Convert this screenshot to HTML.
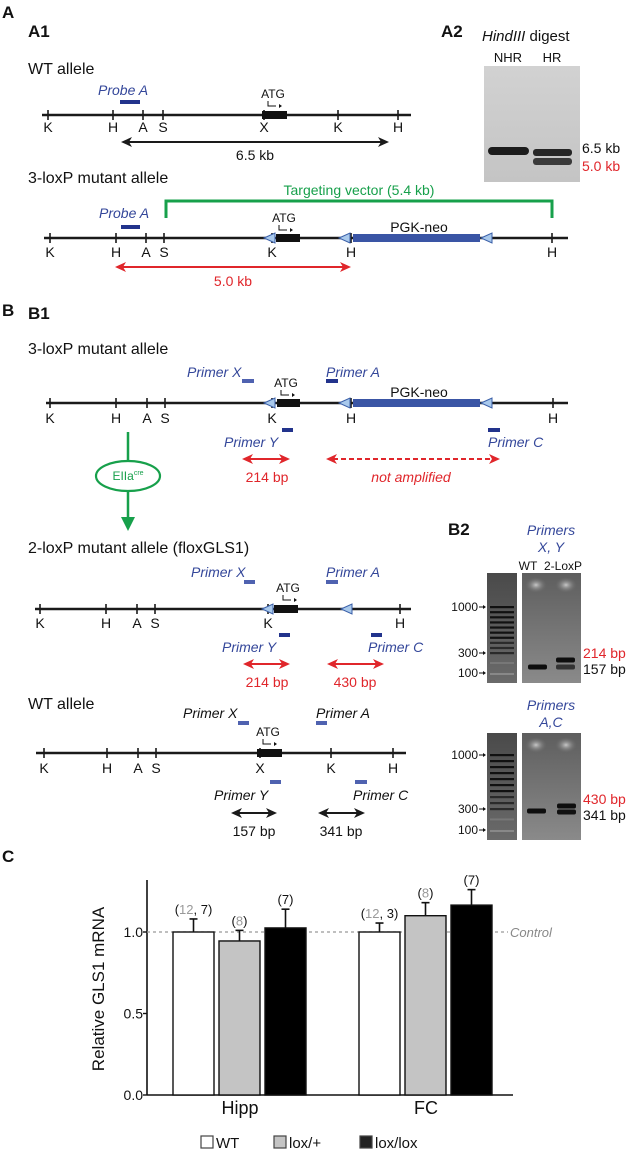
<!DOCTYPE html>
<html><head><meta charset="utf-8"><style>
html,body{margin:0;padding:0;background:#fff}
svg{display:block;font-family:"Liberation Sans",Arial,sans-serif}
</style></head><body>
<svg id="fig" width="632" height="1154" viewBox="0 0 632 1154" xmlns="http://www.w3.org/2000/svg">
<defs>
<linearGradient id="lad" x1="0" y1="0" x2="0" y2="1"><stop offset="0" stop-color="#4a4a4a"/><stop offset="1" stop-color="#6a6a6a"/></linearGradient>
<linearGradient id="smp" x1="0" y1="0" x2="0" y2="1"><stop offset="0" stop-color="#5e5e5e"/><stop offset="1" stop-color="#8a8a8a"/></linearGradient>
<radialGradient id="glow"><stop offset="0" stop-color="#c8c8c8"/><stop offset="1" stop-color="#6a6a6a" stop-opacity="0"/></radialGradient>
<linearGradient id="south" x1="0" y1="0" x2="0" y2="1"><stop offset="0" stop-color="#d2d2d2"/><stop offset="1" stop-color="#c4c4c4"/></linearGradient>
</defs>
<g id="diag"></g>
<g id="chart"></g>
</svg>
<script>
const NS="http://www.w3.org/2000/svg";
const D=document.getElementById('diag');
function mk(tag,attrs,parent,txt){const e=document.createElementNS(NS,tag);for(const k in attrs)e.setAttribute(k,attrs[k]);if(txt!==undefined)e.textContent=txt;(parent||D).appendChild(e);return e;}
function T(x,y,s,o,name){o=o||{};const e=mk('text',Object.assign({x:x,y:y,'font-size':o.fs||13,fill:o.fill||'#111','text-anchor':o.anchor||'start','font-style':o.it?'italic':'normal','font-weight':o.b?'bold':'normal'},o.extra||{}),o.parent,s);


return e;}
const BLUE='#34479a',DBLUE='#22338c',RED='#e0262b',GREEN='#17a04b';
function dArrow(x1,x2,y,col,dash){const g=mk('g',{});


mk('line',{x1:x1+7,x2:x2-7,y1:y,y2:y,stroke:col,'stroke-width':2,'stroke-dasharray':dash?'5,3':'none'},g);
mk('polygon',{points:`${x1},${y} ${x1+11},${y-5} ${x1+8},${y} ${x1+11},${y+5}`,fill:col},g);
mk('polygon',{points:`${x2},${y} ${x2-11},${y-5} ${x2-8},${y} ${x2-11},${y+5}`,fill:col},g);}
function allele(y,x1,x2,ticks,ly,name){const g=mk('g',{});


mk('line',{x1:x1,x2:x2,y1:y,y2:y,stroke:'#1a1a1a','stroke-width':2.4},g);
ticks.forEach(t=>{mk('line',{x1:t[0],x2:t[0],y1:y-5,y2:y+5,stroke:'#1a1a1a','stroke-width':1.6},g);
if(t[1])T(t[0],ly,t[1],{fs:14,anchor:'middle',parent:g},'site-label');});return g;}
function lox(x,y){const e=mk('polygon',{points:`${x},${y} ${x+11},${y-5} ${x+11},${y+5}`,fill:'#a9c9ec',stroke:'#3a5fa8','stroke-width':1});

}
function exon(x1,x2,y){const e=mk('rect',{x:x1,y:y-4,width:x2-x1,height:8,fill:'#111'});

}
function atg(x,y){T(x,y,'ATG',{fs:12,anchor:'middle'},'atg-label');mk('path',{d:`M${x-5},${y+3} v5 h8`,stroke:'#111',fill:'none','stroke-width':1});mk('polygon',{points:`${x+6},${y+6} ${x+9},${y+8} ${x+6},${y+10}`,fill:'#111'});}
function bar(x1,x2,y,col){const e=mk('rect',{x:x1,y:y-2,width:x2-x1,height:4,fill:col||DBLUE});

}

T(2,18,'A',{fs:17,b:true},'panel-a');
T(28,37,'A1',{fs:17,b:true},'panel-a1');
T(441,37,'A2',{fs:17,b:true},'panel-a2');
T(482,41,'',{fs:15},'gel-title');
(function(){const t=D.lastChild;mk('tspan',{'font-style':'italic'},t,'HindIII');mk('tspan',{},t,' digest');})();
T(508,62,'NHR',{fs:13,anchor:'middle'},'lane-nhr');
T(552,62,'HR',{fs:13,anchor:'middle'},'lane-hr');
(function(){const r=mk('rect',{x:484,y:66,width:96,height:116,fill:'url(#south)'});


mk('rect',{x:488,y:147,width:41,height:8,rx:4,fill:'#1c1c1c'});
mk('rect',{x:533,y:149,width:39,height:7,rx:3,fill:'#262626'});
mk('rect',{x:533,y:158,width:39,height:7,rx:3,fill:'#3a3a3a'});})();
T(582,153,'6.5 kb',{fs:14},'band-6-5kb');
T(582,171,'5.0 kb',{fs:14,fill:RED},'band-5-0kb');

T(28,74,'WT allele',{fs:16},'wt-allele-title');
T(98,95,'Probe A',{fs:14,it:true,fill:BLUE},'probe-a-label');
bar(120,140,102);
allele(115,42,411,[[48,'K'],[113,'H'],[143,'A'],[163,'S'],[264,'X'],[338,'K'],[398,'H']],132,'wt-allele-a1');
exon(262,287,115);atg(273,98);
dArrow(121,389,142,'#1a1a1a');
T(255,160,'6.5 kb',{fs:14,anchor:'middle'},'label-6-5kb');

T(28,183,'3-loxP mutant allele',{fs:16},'loxp3-allele-title');
T(359,195,'Targeting vector (5.4 kb)',{fs:14,anchor:'middle',fill:GREEN},'targeting-vector-label');
mk('path',{d:'M166,218 V201 H552 V218',stroke:GREEN,'stroke-width':3,fill:'none'});
T(99,218,'Probe A',{fs:14,it:true,fill:BLUE},'probe-a-label');
bar(121,140,227);
allele(238,44,568,[[50,'K'],[116,'H'],[146,'A'],[164,'S'],[272,'K'],[351,'H'],[552,'H']],257,'loxp3-allele-a1');
lox(264,238);exon(276,300,238);lox(339,238);
mk('rect',{x:353,y:234,width:127,height:8,fill:'#3a55a5'});lox(481,238);
atg(284,222);
T(419,232,'PGK-neo',{fs:14,anchor:'middle'},'pgk-neo-label');
dArrow(115,351,267,RED);
T(233,286,'5.0 kb',{fs:14,anchor:'middle',fill:RED},'label-5-0kb');

T(2,316,'B',{fs:17,b:true},'panel-b');
T(28,319,'B1',{fs:17,b:true},'panel-b1');
T(28,354,'3-loxP mutant allele',{fs:16},'loxp3-allele-title-b');
T(187,377,'Primer X',{fs:14,it:true,fill:BLUE},'primer-x-label');bar(242,254,381,'#4f62b0');
T(326,377,'Primer A',{fs:14,it:true,fill:BLUE},'primer-a-label');bar(326,338,381);
allele(403,46,568,[[50,'K'],[116,'H'],[147,'A'],[165,'S'],[272,'K'],[351,'H'],[553,'H']],423,'loxp3-allele-b1');
lox(264,403);exon(277,300,403);lox(339,403);
mk('rect',{x:353,y:399,width:127,height:8,fill:'#3a55a5'});lox(481,403);
atg(286,387);
T(419,397,'PGK-neo',{fs:14,anchor:'middle'},'pgk-neo-label-b');
bar(282,293,430);T(224,447,'Primer Y',{fs:14,it:true,fill:BLUE},'primer-y-label');
bar(488,500,430);T(488,447,'Primer C',{fs:14,it:true,fill:BLUE},'primer-c-label');
dArrow(242,290,459,RED);dArrow(326,500,459,RED,true);
T(267,482,'214 bp',{fs:14,anchor:'middle',fill:RED},'label-214bp');
T(411,482,'not amplified',{fs:14,anchor:'middle',fill:RED,it:true},'label-not-amplified');
mk('line',{x1:128,x2:128,y1:432,y2:522,stroke:GREEN,'stroke-width':2.5});
mk('polygon',{points:'121,517 135,517 128,531',fill:GREEN});
mk('ellipse',{cx:128,cy:476,rx:32,ry:15,fill:'#fff',stroke:GREEN,'stroke-width':2.2});
(function(){const t=T(128,480,'EIIa',{fs:12,anchor:'middle',fill:GREEN},'eiia-cre-label');mk('tspan',{'font-size':7,dy:-5},t,'cre');})();

T(28,553,'2-loxP mutant allele (floxGLS1)',{fs:16},'loxp2-allele-title');
T(191,577,'Primer X',{fs:14,it:true,fill:BLUE},'primer-x-label-2');bar(244,255,582,'#4f62b0');
T(326,577,'Primer A',{fs:14,it:true,fill:BLUE},'primer-a-label-2');bar(326,338,582,'#4f62b0');
allele(609,35,411,[[40,'K'],[106,'H'],[137,'A'],[155,'S'],[268,'K'],[400,'H']],628,'loxp2-allele');
lox(262,609);exon(274,298,609);lox(341,609);
atg(288,592);
bar(279,290,635);T(222,652,'Primer Y',{fs:14,it:true,fill:BLUE},'primer-y-label-2');
bar(371,382,635);T(368,652,'Primer C',{fs:14,it:true,fill:BLUE},'primer-c-label-2');
dArrow(243,290,664,RED);dArrow(327,384,664,RED);
T(267,687,'214 bp',{fs:14,anchor:'middle',fill:RED},'label-214bp-2');
T(355,687,'430 bp',{fs:14,anchor:'middle',fill:RED},'label-430bp');

T(28,709,'WT allele',{fs:16},'wt-allele-title-b');
T(183,718,'Primer X',{fs:14,it:true},'primer-x-label-3');bar(238,249,723,'#4f62b0');
T(316,718,'Primer A',{fs:14,it:true},'primer-a-label-3');bar(316,327,723,'#4f62b0');
allele(753,36,406,[[44,'K'],[107,'H'],[138,'A'],[156,'S'],[260,'X'],[331,'K'],[393,'H']],773,'wt-allele-b');
exon(257,282,753);atg(268,736);
bar(270,281,782,'#4f62b0');T(214,800,'Primer Y',{fs:14,it:true},'primer-y-label-3');
bar(355,367,782,'#4f62b0');T(353,800,'Primer C',{fs:14,it:true},'primer-c-label-3');
dArrow(231,277,813,'#1a1a1a');dArrow(318,365,813,'#1a1a1a');
T(254,836,'157 bp',{fs:14,anchor:'middle'},'label-157bp');
T(341,836,'341 bp',{fs:14,anchor:'middle'},'label-341bp');

T(448,535,'B2',{fs:17,b:true},'panel-b2');
T(551,535,'Primers',{fs:14,it:true,fill:BLUE,anchor:'middle'},'primers-xy-title');
T(551,552,'X, Y',{fs:14,it:true,fill:BLUE,anchor:'middle'},'primers-xy-sub');
T(528,570,'WT',{fs:12,anchor:'middle'},'lane-wt');
T(563,570,'2-LoxP',{fs:12,anchor:'middle'},'lane-2loxp');
T(551,710,'Primers',{fs:14,it:true,fill:BLUE,anchor:'middle'},'primers-ac-title');
T(551,727,'A,C',{fs:14,it:true,fill:BLUE,anchor:'middle'},'primers-ac-sub');
function gel(top,bot,m1000,m300,m100,bands,name){
const g=mk('g',{});


mk('rect',{x:487,y:top,width:30,height:bot-top,fill:'url(#lad)'},g);
mk('rect',{x:522,y:top,width:59,height:bot-top,fill:'url(#smp)'},g);
mk('ellipse',{cx:536,cy:top+12,rx:11,ry:8,fill:'url(#glow)'},g);
mk('ellipse',{cx:566,cy:top+12,rx:11,ry:8,fill:'url(#glow)'},g);
const step=(m300-m1000)/9;
for(let i=0;i<10;i++){mk('rect',{x:490,y:m1000+i*step-1,width:24,height:2.2,fill:i<7?'#111':'#2a2a2a'},g);}
mk('rect',{x:490,y:m300+(m100-m300)*0.45,width:24,height:2,fill:'#777'},g);
mk('rect',{x:490,y:m100,width:24,height:2,fill:'#888'},g);
[[m1000,'1000'],[m300,'300'],[m100,'100']].forEach(m=>{T(478,m[0]+4,m[1],{fs:12,anchor:'end'},'marker-label');
mk('line',{x1:479,x2:483,y1:m[0],y2:m[0],stroke:'#111','stroke-width':1},g);mk('polygon',{points:`${483},${m[0]-2} ${486},${m[0]} ${483},${m[0]+2}`,fill:'#111'},g);});
bands.forEach(b=>mk('rect',{x:b[0],y:b[1]-2.5,width:19,height:5,rx:2,fill:b[2]},g));}
gel(573,683,607,653,673,[[528,667,'#0e0e0e'],[556,660,'#0e0e0e'],[556,667,'#333']],'pcr-gel-xy');
gel(733,840,755,809,830,[[527,811,'#0e0e0e'],[557,806,'#0e0e0e'],[557,812,'#111']],'pcr-gel-ac');
T(583,658,'214 bp',{fs:14,fill:RED},'band-214bp');
T(583,674,'157 bp',{fs:14},'band-157bp');
T(583,804,'430 bp',{fs:14,fill:RED},'band-430bp');
T(583,820,'341 bp',{fs:14},'band-341bp');
</script>
<script>
// ---- Chart C data ----
const regions=["Hipp","FC"];
const genotypes=["WT","lox/+","lox/lox"];
const hippMeans=[1.0,0.945,1.025];
const hippErr=[0.08,0.065,0.115];
const fcMeans=[1.0,1.10,1.165];
const fcErr=[0.055,0.08,0.095];
const hippN=[["12","7"],["8"],["7"]];
const fcN=[["12","3"],["8"],["7"]];
const yTicks=[0.0,0.5,1.0];
const yTickLabels=["0.0","0.5","1.0"];
const controlLevel=1.0;

const C=document.getElementById('chart');
const fills=['#ffffff','#c4c4c4','#000000'];
const X0=147,X1=513,Y0=1095,UNIT=163;
function yS(v){return Y0-v*UNIT;}
function groupCenter(i){return X0+93+i*186;}
function barX(gi,k){return groupCenter(gi)-67+k*46;}
function el(tag,a,txt){const e=document.createElementNS(NS,tag);for(const k in a)e.setAttribute(k,a[k]);if(txt!==undefined)e.textContent=txt;C.appendChild(e);return e;}

let e=el('text',{x:2,y:862,'font-size':17,'font-weight':'bold',fill:'#111'},'C');


e=el('text',{x:0,y:0,'font-size':17,fill:'#111','text-anchor':'middle',transform:`translate(104,989) rotate(-90)`},'Relative GLS1 mRNA');


e=el('line',{x1:X0,x2:X0,y1:880,y2:Y0,stroke:'#111','stroke-width':1.6});


e=el('line',{x1:X0,x2:X1,y1:Y0,y2:Y0,stroke:'#111','stroke-width':1.6});


yTicks.forEach((t,i)=>{
 const tk=el('line',{x1:X0-4,x2:X0,y1:yS(t),y2:yS(t),stroke:'#111','stroke-width':1.4});
 
 
 const lb=el('text',{x:X0-4,y:yS(t)+5,'font-size':14,fill:'#111','text-anchor':'end'},yTickLabels[i]);
 
 
});
e=el('line',{x1:X0,x2:508,y1:yS(controlLevel),y2:yS(controlLevel),stroke:'#999','stroke-width':1.2,'stroke-dasharray':'3,3'});


e=el('text',{x:510,y:yS(controlLevel)+5,'font-size':13,fill:'#888','font-style':'italic'},'Control');



const means=[hippMeans,fcMeans],errs=[hippErr,fcErr],ns=[hippN,fcN];
regions.forEach((r,gi)=>{
 genotypes.forEach((g,k)=>{
  const x=barX(gi,k),w=41,v=means[gi][k],er=errs[gi][k];
  const ty=yS(v+er);
  const el1=el('line',{x1:x+w/2,x2:x+w/2,y1:yS(v),y2:ty,stroke:'#111','stroke-width':1.6});
  
  
  const cap=el('line',{x1:x+w/2-4,x2:x+w/2+4,y1:ty,y2:ty,stroke:'#111','stroke-width':1.6});
  
  
  const b=el('rect',{x:x,y:yS(v),width:w,height:Y0-yS(v),fill:fills[k],stroke:'#111','stroke-width':1.4});
  
  
  const n=ns[gi][k];
  const t=el('text',{x:x+w/2,y:ty-5,'font-size':13,'text-anchor':'middle',fill:'#111'});
  
  
  const ap=(s,c)=>{const sp=document.createElementNS(NS,'tspan');sp.textContent=s;if(c)sp.setAttribute('fill',c);t.appendChild(sp);};
  ap('(');
  if(n.length===2){ap(n[0],'#999');ap(', '+n[1]);}else{ap(n[0],k===2?null:'#999');}
  ap(')');
 });
 const lb=el('text',{x:groupCenter(gi),y:1114,'font-size':18,'text-anchor':'middle',fill:'#111'},r);
 
 
});
const legX=[201,274,360];
genotypes.forEach((g,k)=>{
 const s=el('rect',{x:legX[k],y:1136,width:12,height:12,fill:fills[k]==='#000000'?'#222':fills[k],stroke:'#444','stroke-width':1.2});
 
 
 const t=el('text',{x:legX[k]+15,y:1148,'font-size':15,fill:'#111'},g);
 
 
});
</script>
</body></html>
